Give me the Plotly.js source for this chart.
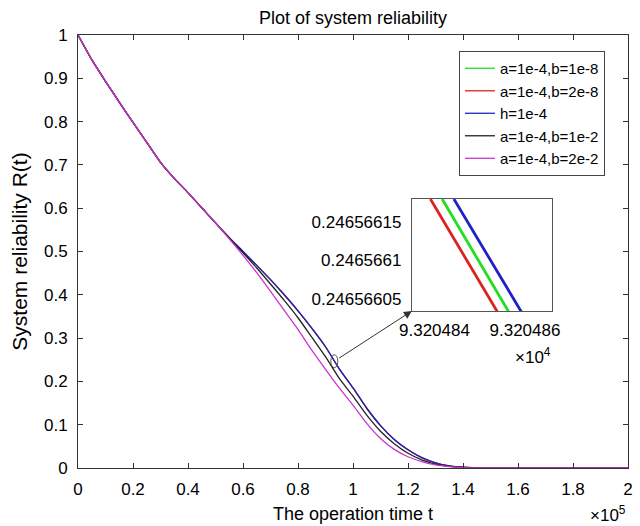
<!DOCTYPE html>
<html>
<head>
<meta charset="utf-8">
<script src="https://cdn.plot.ly/plotly-3.0.1.min.js"></script>
<style>html,body{margin:0;padding:0;background:#fff;}#chart{width:640px;height:526px;}</style>
</head>
<body>
<div id="chart"></div>
<script>
// Operation time t (units of 1e5)
const tVals = [0, 0.05, 0.1, 0.15, 0.2, 0.25, 0.3, 0.35, 0.4, 0.45, 0.5, 0.55, 0.6, 0.65, 0.7, 0.75, 0.8, 0.85, 0.9, 0.95, 1.0, 1.05, 1.1, 1.15, 1.2, 1.25, 1.3, 1.35, 1.4, 1.45, 1.5, 1.6, 1.7, 1.8, 1.9, 2.0];

// Series labels
const seriesNames = ["a=1e-4,b=1e-8", "a=1e-4,b=2e-8", "h=1e-4", "a=1e-4,b=1e-2", "a=1e-4,b=2e-2"];
const seriesColors = ["#22dd22", "#dd2020", "#2020c8", "#222222", "#cc33cc"];

// Reliability R(t) for each series
const rGreen = [1.0, 0.943, 0.893, 0.845, 0.798, 0.752, 0.706, 0.669, 0.636, 0.601, 0.566, 0.532, 0.500, 0.468, 0.435, 0.400, 0.363, 0.323, 0.280, 0.229, 0.185, 0.138, 0.098, 0.066, 0.042, 0.024, 0.012, 0.005, 0.0017, 0.0004, 0, 0, 0, 0, 0, 0];
const rRed   = [1.0, 0.943, 0.893, 0.845, 0.798, 0.752, 0.706, 0.669, 0.636, 0.601, 0.566, 0.532, 0.500, 0.468, 0.435, 0.400, 0.363, 0.323, 0.280, 0.229, 0.185, 0.138, 0.098, 0.066, 0.042, 0.024, 0.012, 0.005, 0.0017, 0.0004, 0, 0, 0, 0, 0, 0];
const rBlue  = [1.0, 0.943, 0.893, 0.845, 0.798, 0.752, 0.706, 0.669, 0.636, 0.601, 0.566, 0.532, 0.500, 0.468, 0.435, 0.400, 0.363, 0.323, 0.280, 0.229, 0.185, 0.138, 0.098, 0.066, 0.042, 0.024, 0.012, 0.005, 0.0017, 0.0004, 0, 0, 0, 0, 0, 0];
const rBlack = [1.0, 0.943, 0.893, 0.845, 0.798, 0.752, 0.706, 0.669, 0.636, 0.601, 0.566, 0.531, 0.497, 0.462, 0.425, 0.387, 0.347, 0.302, 0.257, 0.207, 0.166, 0.122, 0.085, 0.056, 0.034, 0.019, 0.009, 0.004, 0.0013, 0.0003, 0, 0, 0, 0, 0, 0];
const rMagenta = [1.0, 0.943, 0.893, 0.845, 0.798, 0.752, 0.706, 0.669, 0.636, 0.601, 0.566, 0.529, 0.491, 0.451, 0.408, 0.364, 0.320, 0.272, 0.228, 0.185, 0.145, 0.103, 0.068, 0.043, 0.026, 0.015, 0.007, 0.003, 0.001, 0.0003, 0, 0, 0, 0, 0, 0];

// Zoomed inset (t in units of 1e4)
const insetXRed   = [9.32048391, 9.32048542];
const insetXGreen = [9.32048417, 9.32048567];
const insetXBlue  = [9.32048443, 9.32048595];
const insetY      = [0.24656618, 0.24656603];
const insetXTicks = [9.320484, 9.320486];
const insetXTickText = ["9.320484", "9.320486"];
const insetYTicks = [0.24656605, 0.2465661, 0.24656615];
const insetYTickText = ["0.24656605", "0.2465661", "0.24656615"];

const FONT = "Liberation Sans, Arial, sans-serif";
const mainSeries = [rGreen, rRed, rBlue, rBlack, rMagenta];

const traces = mainSeries.map((r, i) => ({
  x: tVals, y: r, type: "scatter", mode: "lines", line: {color: seriesColors[i], width: 1.3, shape: "spline", smoothing: 0.6},
  name: seriesNames[i], xaxis: "x", yaxis: "y"
}));

const insetSets = [[insetXRed, seriesColors[1]], [insetXGreen, seriesColors[0]], [insetXBlue, seriesColors[2]]];
insetSets.forEach(([xs, c]) => {
  traces.push({x: xs, y: insetY, type: "scatter", mode: "lines", showlegend: false,
    line: {color: c, width: 2.8}, xaxis: "x2", yaxis: "y2"});
});

const insetDomX = [0.607, 0.862];
const insetDomY = [0.3626, 0.6212];
const cx = (insetXBlue[0] + insetXBlue[1]) / 2 / 10;
const cy = (insetY[0] + insetY[1]) / 2;

const layout = {
  width: 640, height: 526,
  margin: {l: 78, r: 12, t: 35, b: 58},
  paper_bgcolor: "#ffffff", plot_bgcolor: "#ffffff",
  font: {family: FONT, color: "#000", size: 17},
  title: {text: "Plot of system reliability", font: {size: 18, family: FONT}, x: 0.5, xref: "paper", xanchor: "center", y: 1 - 18/526, yanchor: "middle"},
  showlegend: true,
  legend: {x: 0.6926, y: 0.963, xanchor: "left", yanchor: "top", bgcolor: "#fff", bordercolor: "#444", borderwidth: 1, font: {size: 15, family: FONT}, tracegroupgap: 0},
  xaxis: {
    domain: [0, 1], range: [0, 2], tick0: 0, dtick: 0.2, ticks: "inside", ticklen: 5, tickcolor: "#333",
    showline: true, linecolor: "#333", linewidth: 1, mirror: "ticks", showgrid: false, zeroline: false,
    tickfont: {size: 17}, ticklabelstandoff: 6,
    title: {text: "The operation time t", font: {size: 18}, standoff: 8}
  },
  yaxis: {
    domain: [0, 1], range: [0, 1], tick0: 0, dtick: 0.1, ticks: "inside", ticklen: 5, tickcolor: "#333",
    showline: true, linecolor: "#333", linewidth: 1, mirror: "ticks", showgrid: false, zeroline: false,
    tickfont: {size: 17}, ticklabelstandoff: 6,
    title: {text: "System reliability R(t)", font: {size: 21}, standoff: 10}
  },
  xaxis2: {
    domain: insetDomX, anchor: "y2", range: [9.3204835, 9.3204866],
    tickmode: "array", tickvals: insetXTicks, ticktext: insetXTickText, ticks: "",
    showline: true, linecolor: "#555", linewidth: 1, mirror: true, showgrid: false, zeroline: false,
    tickfont: {size: 17}, ticklabelstandoff: 4
  },
  yaxis2: {
    domain: insetDomY, anchor: "x2", range: [0.246566034, 0.24656618],
    tickmode: "array", tickvals: insetYTicks, ticktext: insetYTickText, ticks: "",
    showline: true, linecolor: "#555", linewidth: 1, mirror: true, showgrid: false, zeroline: false,
    tickfont: {size: 17}, ticklabelstandoff: 6
  },
  shapes: [{
    type: "circle", xref: "x", yref: "y", xsizemode: "pixel", ysizemode: "pixel",
    xanchor: cx, yanchor: cy, x0: -3.5, x1: 3.5, y0: -6.5, y1: 6.5,
    line: {color: "#555", width: 1}
  }],
  annotations: [
    {xref: "x", yref: "y", axref: "x", ayref: "y",
     x: 2 * insetDomX[0], y: insetDomY[0], ax: cx, ay: cy,
     showarrow: true, arrowhead: 2, arrowsize: 1.6, arrowwidth: 1, arrowcolor: "#333",
     startstandoff: 4, standoff: 0, text: ""},
    {xref: "paper", yref: "paper", x: 1.0, y: -46/433, xanchor: "right", yanchor: "middle",
     text: "×10<sup>5</sup>", showarrow: false, font: {size: 17}},
    {xref: "paper", yref: "paper", x: (533 - 78) / 550, y: (468 - 356) / 433, xanchor: "center", yanchor: "middle",
     text: "×10<sup>4</sup>", showarrow: false, font: {size: 17}}
  ]
};

Plotly.newPlot("chart", traces, layout, {displayModeBar: false, staticPlot: true});
</script>
</body>
</html>
